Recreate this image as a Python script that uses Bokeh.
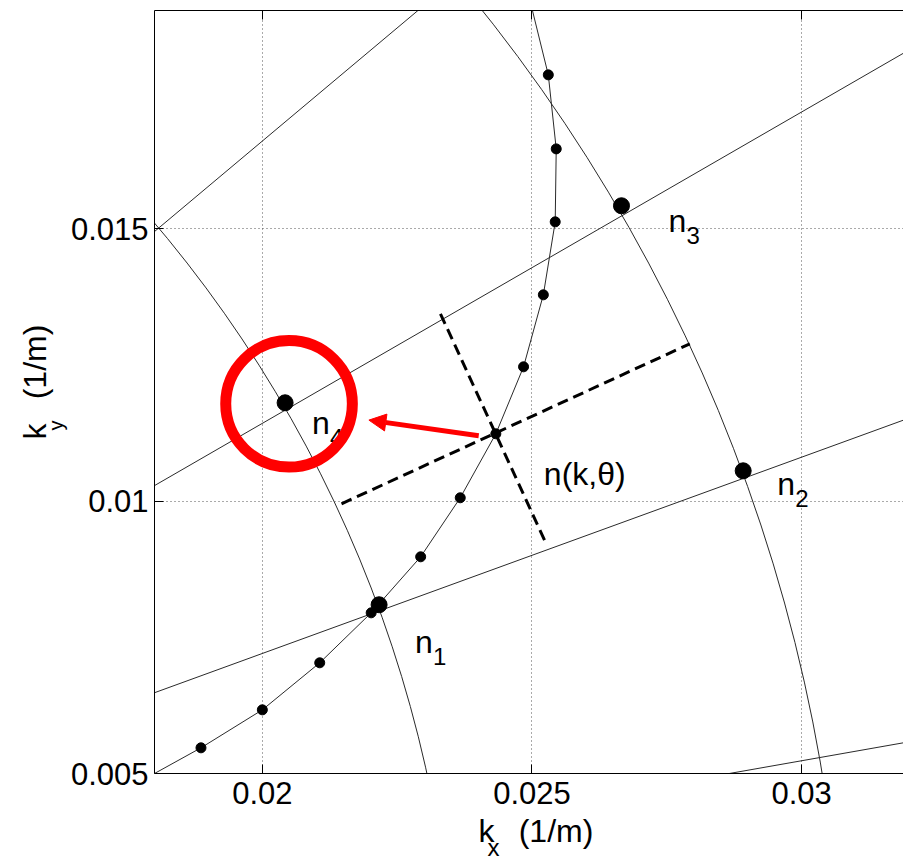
import math
from bokeh.plotting import figure
from bokeh.models import (Range1d, LinearAxis, FixedTicker, Label, Arrow, NormalHead)
from bokeh.embed import file_html
from bokeh.resources import INLINE

# ---------------- data ----------------
x_ticks = [0.02, 0.025, 0.03]
x_tick_labels = ["0.02", "0.025", "0.03"]
y_ticks = [0.005, 0.01, 0.015]
y_tick_labels = ["0.005", "0.01", "0.015"]

# radial lines (deg) and circles of constant |k| (1/m), centred on the origin
ray_angles_deg = [10, 20, 30, 40]
arc_radii = [0.0236, 0.0308]

# dispersion curve (line vertices) and its sample dots
curve_x = [0.0180, 0.018862, 0.0200, 0.021064, 0.022018, 0.022936, 0.02367,
           0.02433, 0.024844, 0.025211, 0.025431, 0.02545, 0.025303, 0.025009]
curve_y = [0.0050, 0.005471, 0.006168, 0.007031, 0.007948, 0.008976, 0.010059,
           0.011233, 0.012462, 0.013783, 0.015122, 0.016461, 0.017819, 0.0190]
dots_x = [0.018862, 0.0200, 0.021064, 0.022018, 0.022936, 0.02367, 0.02433,
          0.024844, 0.025211, 0.025431, 0.02545, 0.025303]
dots_y = [0.005471, 0.006168, 0.007031, 0.007948, 0.008976, 0.010059, 0.011233,
          0.012462, 0.013783, 0.015122, 0.016461, 0.017819]

# the four grid nodes
node_x = [0.022165, 0.028917, 0.02666, 0.020422]
node_y = [0.008096, 0.010554, 0.015417, 0.011802]
node_subs = ["1", "2", "3", "4"]

# interpolated point n(k, theta)
center_x = 0.02433
center_y = 0.011233

# dashed cross through the interpolated point
dash1_x = [0.021468, 0.027927]
dash1_y = [0.009949, 0.012884]
dash2_x = [0.023303, 0.025248]
dash2_y = [0.013435, 0.009251]

# red highlight circle and arrow
ring_x = 0.020495
ring_y = 0.011783
ring_r = 0.001174
arrow_from = (0.024013, 0.011196)
arrow_to = (0.021976, 0.011484)

# axis titles (non-breaking spaces leave room for the subscript)
GAP = "\u00a0\u00a0\u2009"
x_title, x_sub = "k" + GAP + "(1/m)", "x"
y_title, y_sub = "k" + GAP + "(1/m)", "y"

# ---------------- styling ----------------
FONT = "Liberation Sans"
LINE = "#2a2a2a"

p = figure(width=903, height=861,
           x_range=Range1d(0.018, 0.031890), y_range=Range1d(0.005, 0.019),
           output_backend="svg", toolbar_location=None,
           min_border_left=154, min_border_right=0, min_border_top=10,
           min_border_bottom=88, x_axis_location="below")
p.outline_line_color = None
p.background_fill_color = "white"
p.border_fill_color = "white"

# axes
for ax, ticks, labels in ((p.xaxis[0], x_ticks, x_tick_labels),
                          (p.yaxis[0], y_ticks, y_tick_labels)):
    ax.ticker = FixedTicker(ticks=ticks)
    ax.major_label_overrides = {t: l for t, l in zip(ticks, labels)}
    ax.major_tick_in = 9
    ax.major_tick_out = 0
    ax.minor_tick_line_color = None
    ax.axis_line_color = "black"
    ax.major_tick_line_color = "black"
    ax.major_label_text_font = FONT
    ax.major_label_text_font_size = "31px"
    ax.major_label_text_color = "black"
p.xaxis[0].major_label_standoff = 8
p.yaxis[0].major_label_standoff = 6

top = LinearAxis(ticker=FixedTicker(ticks=x_ticks), major_tick_in=9,
                 major_tick_out=0, minor_tick_line_color=None,
                 major_label_text_font_size="0px", major_label_standoff=0,
                 axis_line_color="black")
top.major_label_overrides = {t: "" for t in x_ticks}
p.add_layout(top, "above")

# grid
for g, ticks in ((p.xgrid[0], x_ticks), (p.ygrid[0], y_ticks)):
    g.ticker = FixedTicker(ticks=ticks)
    g.grid_line_color = "#555555"
    g.grid_line_dash = "1 3"
    g.grid_line_width = 1

# radial lines and circles
p.ray(x=[0] * len(ray_angles_deg), y=[0] * len(ray_angles_deg),
      angle=ray_angles_deg, angle_units="deg", length=0,
      line_color=LINE, line_width=1)
for r in arc_radii:
    p.arc(x=0, y=0, radius=r, start_angle=0, end_angle=math.pi / 2,
          line_color=LINE, line_width=1)

# dispersion curve
p.line(curve_x, curve_y, line_color=LINE, line_width=1)

# dashed cross
p.line(dash1_x, dash1_y, line_color="black", line_width=3, line_dash="11 6")
p.line(dash2_x, dash2_y, line_color="black", line_width=3, line_dash="11 6")

# dots
p.scatter(dots_x, dots_y, size=10, fill_color="black", line_color="black")
p.scatter(node_x, node_y, size=16, fill_color="black", line_color="black")

def mk(x, y, s, size, dx=0, dy=0, angle=0, units="data"):
    return Label(x=x, y=y, x_offset=dx, y_offset=dy, text=s,
                 x_units=units, y_units=units,
                 text_font=FONT, text_font_size=size, text_color="black",
                 angle=angle, angle_units="deg",
                 text_baseline="alphabetic", text_align="left")

# node labels
label_off = [(36, -37), (34, -13), (47, -15), (27, -20)]
for nx, ny, sub, (dx, dy) in zip(node_x, node_y, node_subs, label_off):
    p.add_layout(mk(nx, ny, "n", "32px", dx, dy))
    p.add_layout(mk(nx, ny, sub, "24px", dx + 18, dy - 15))
p.add_layout(mk(center_x, center_y, "n(k,θ)", "32px", 48, -40))

# red ring and arrow
ring = p.circle(x=[ring_x], y=[ring_y], radius=ring_r, fill_color=None,
                line_color="red", line_width=11)
ring.level = "overlay"
p.add_layout(Arrow(end=NormalHead(size=17, fill_color="red", line_color="red"),
                   x_start=arrow_from[0], y_start=arrow_from[1],
                   x_end=arrow_to[0], y_end=arrow_to[1],
                   line_color="red", line_width=5))

# axis titles with subscripts, placed in the side panels (screen units
# relative to each label's own panel slice)
p.add_layout(mk(324, 12, x_title, "32px", units="screen"), "below")
p.add_layout(mk(3, 334, y_title, "32px", angle=90, units="screen"), "left")
p.add_layout(mk(468, -74, x_sub, "24px", units="screen"), "left")
p.add_layout(mk(-99, -420, y_sub, "20px", angle=90, units="screen"), "above")

open("out.html", "w").write(file_html(p, INLINE))
